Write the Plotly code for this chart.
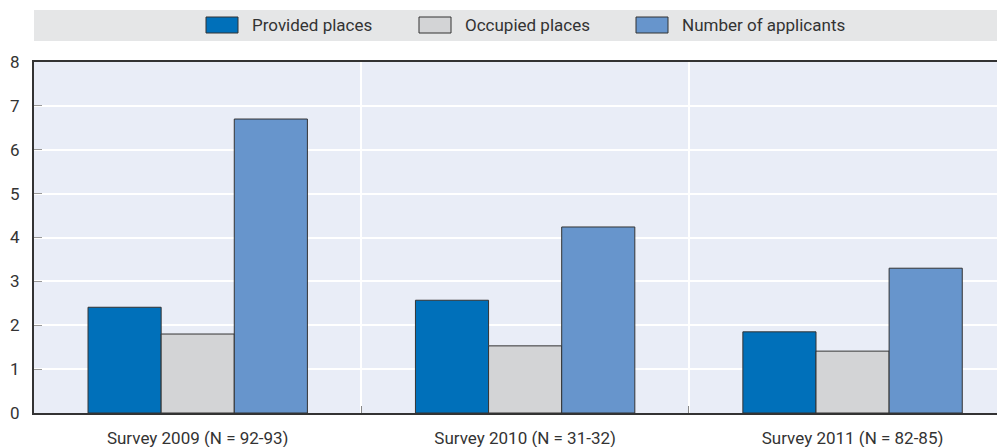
import plotly.graph_objects as go

categories = ["Survey 2009 (N = 92-93)", "Survey 2010 (N = 31-32)", "Survey 2011 (N = 82-85)"]
provided = [2.41, 2.57, 1.85]
occupied = [1.80, 1.53, 1.41]
applicants = [6.70, 4.24, 3.30]
series_names = ["Provided places", "Occupied places", "Number of applicants"]
series_colors = ["#0070BA", "#D3D4D6", "#6795CC"]
y_ticks = [0, 1, 2, 3, 4, 5, 6, 7, 8]

FONT = "Roboto, sans-serif"
TXT = "#333333"
line = dict(color="#333333", width=1)

fig = go.Figure()
for name, vals, col in zip(series_names, [provided, occupied, applicants], series_colors):
    fig.add_bar(name=name, x=categories, y=vals, marker=dict(color=col, line=line))

# page body has an 8px margin: figure coordinates = screen - 8
OFF = 8
W, H = 1005, 447
L, R, T, B = 34 - OFF, 0, 62 - OFF, H - (413 - OFF)
pw, ph = W - L - R, H - T - B

def px(x):
    return (x - OFF - L) / pw

def py(y):
    return (H - B - (y - OFF)) / ph

# legend band
fig.add_shape(type="rect", xref="paper", yref="paper", x0=0, x1=1, y0=py(41), y1=py(10),
              fillcolor="#E5E6E7", line=dict(width=0), layer="below")
# manual legend (wide swatches like the reference)
swatch_x = [206, 419, 636]
for sx, name, col in zip(swatch_x, series_names, series_colors):
    fig.add_shape(type="rect", xref="paper", yref="paper", x0=px(sx), x1=px(sx + 32),
                  y0=py(33), y1=py(17), fillcolor=col, line=dict(color="#333333", width=1))
    fig.add_annotation(xref="paper", yref="paper", x=px(sx + 44), y=py(25), text=name,
                       showarrow=False, xanchor="left", yanchor="middle",
                       font=dict(family=FONT, size=17, color=TXT))

fig.update_layout(
    width=W, height=H,
    margin=dict(l=L, r=R, t=T, b=B),
    barmode="group", bargap=0.33, bargroupgap=0,
    plot_bgcolor="#E9EDF7", paper_bgcolor="white",
    font=dict(family=FONT, size=17, color=TXT),
    showlegend=False,
    xaxis=dict(range=[-0.5, 2.49], tickson="boundaries", showgrid=True,
               gridcolor="white", gridwidth=2, ticks="inside", ticklen=7,
               tickcolor="#888888", showline=True, linecolor="#333333", linewidth=2,
               mirror=True, tickfont=dict(size=17), automargin=False,
               ticklabelstandoff=9),
    yaxis=dict(range=[0, 8], tickvals=y_ticks, showgrid=True, gridcolor="white",
               gridwidth=2, ticks="inside", ticklen=8, tickcolor="#999999",
               showline=True, linecolor="#333333", linewidth=2, zeroline=False,
               tickfont=dict(size=17), ticklabelstandoff=9, automargin=False),
)

fig.write_html("out.html")
